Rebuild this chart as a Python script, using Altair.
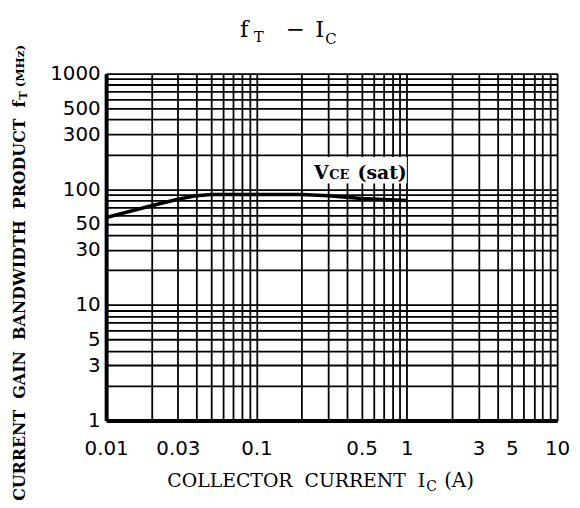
import altair as alt
import pandas as pd

# ---- data ----
ic_a = [0.01, 0.02, 0.03, 0.04, 0.05, 0.1, 0.2, 0.3, 0.5, 1.0]
ft_mhz = [57, 72, 82, 88, 90, 90, 90, 88, 83, 80]

x_grid = [0.01, 0.02, 0.03, 0.04, 0.05, 0.06, 0.07, 0.08, 0.09,
          0.1, 0.2, 0.3, 0.4, 0.5, 0.6, 0.7, 0.8, 0.9,
          1, 2, 3, 4, 5, 6, 7, 8, 9, 10]
y_grid = [1, 2, 3, 4, 5, 6, 7, 8, 9,
          10, 20, 30, 40, 50, 60, 70, 80, 90,
          100, 200, 300, 400, 500, 600, 700, 800, 900, 1000]
x_labels = [0.01, 0.03, 0.1, 0.5, 1, 3, 5, 10]
y_labels = [1, 3, 5, 10, 30, 50, 100, 300, 500, 1000]

label_x = 1.0      # right end of the "VCE(sat)" annotation
label_y = 122      # baseline level of the annotation
box_x = [0.22, 1.0]
box_y = [112, 190]

W, H = 455, 350
NB = "\u00a0"
GAP = NB * 2

df = pd.DataFrame({"ic": ic_a, "ft": ft_mhz})


def lab_expr(vals):
    cond = " || ".join(f"abs(datum.value - {v!r}) < {v * 1e-6!r}" for v in vals)
    return f"({cond}) ? format(datum.value, '~g') : ''"


xscale = alt.Scale(type="log", domain=[0.01, 10], nice=False)
yscale = alt.Scale(type="log", domain=[1, 1000], nice=False)

xaxis = alt.Axis(values=x_grid, labelExpr=lab_expr(x_labels), title=None,
                 grid=True, gridColor="black", gridWidth=1.8, gridOpacity=1,
                 ticks=False, domainColor="black", domainWidth=4,
                 labelFont="DejaVu Sans", labelFontSize=20, labelColor="black",
                 labelPadding=18, labelFlush=False, labelOverlap=False)
yaxis = alt.Axis(values=y_grid, labelExpr=lab_expr(y_labels), title=None,
                 grid=True, gridColor="black", gridWidth=1.8, gridOpacity=1,
                 ticks=False, domainColor="black", domainWidth=4,
                 labelFont="DejaVu Sans", labelFontSize=20, labelColor="black",
                 labelPadding=6, labelFlush=False, labelOverlap=False)

curve = alt.Chart(df).mark_line(color="black", strokeWidth=3.5, clip=True).encode(
    x=alt.X("ic:Q", scale=xscale, axis=xaxis),
    y=alt.Y("ft:Q", scale=yscale, axis=yaxis),
)

box_df = pd.DataFrame({"x1": [box_x[0]], "x2": [box_x[1]], "y1": [box_y[0]], "y2": [box_y[1]]})
box = alt.Chart(box_df).mark_rect(color="white").encode(
    x=alt.X("x1:Q", scale=xscale), x2="x2:Q",
    y=alt.Y("y1:Q", scale=yscale), y2="y2:Q",
)

ann_df = pd.DataFrame({"x": [label_x], "y": [label_y]})


def ann(text, size, dx):
    return alt.Chart(ann_df).mark_text(
        text=text, font="DejaVu Serif", fontWeight="bold", fontSize=size,
        align="right", baseline="alphabetic", dx=dx, color="black",
    ).encode(x=alt.X("x:Q", scale=xscale), y=alt.Y("y:Q", scale=yscale))


ann_layers = [ann("(sat)", 19, 0), ann("CE", 13, -58), ann("V", 19, -79)]

one = pd.DataFrame({"k": [0]})


def txt(text, x, y, size, weight="normal", align="left", angle=0, baseline="alphabetic"):
    kw = dict(text=text, font="DejaVu Serif", fontSize=size, fontWeight=weight,
              align=align, baseline=baseline, color="black")
    if angle:
        kw["angle"] = angle
    return alt.Chart(one).mark_text(**kw).encode(x=alt.value(x), y=alt.value(y))


texts = [
    # chart title  f_T - I_C
    txt("f", 135, -37, 23),
    txt("T", 149, -32, 15),
    txt("\u2212", 181, -37, 23),
    txt("I", 211, -37, 23),
    txt("C", 221, -30, 15),
    # x axis title
    txt(f"COLLECTOR{NB}{NB}CURRENT{NB}{NB}I", 322, 417, 19, align="right"),
    txt("C", 323, 421, 14),
    txt("(A)", 341, 417, 20),
    # y axis title (rotated)
    txt(f"CURRENT{GAP}GAIN{GAP}BANDWIDTH{GAP}PRODUCT{GAP}f",
        -87, 431, 16, weight="bold", angle=270, baseline="middle"),
    txt("T", -83, 22, 11, weight="bold", angle=270, baseline="middle", align="center"),
    txt("(MHz)", -87, -29, 12, weight="bold", angle=270, baseline="middle", align="right"),
]

chart = alt.layer(box, curve, *ann_layers, *texts).properties(
    width=W, height=H,
    autosize=alt.AutoSizeParams(type="none"),
    padding={"left": 99, "top": 64, "right": 15, "bottom": 78},
).configure_view(stroke="black", strokeWidth=3).configure(background="white")

chart.save("out.html", embed_options={"renderer": "svg", "actions": False})
